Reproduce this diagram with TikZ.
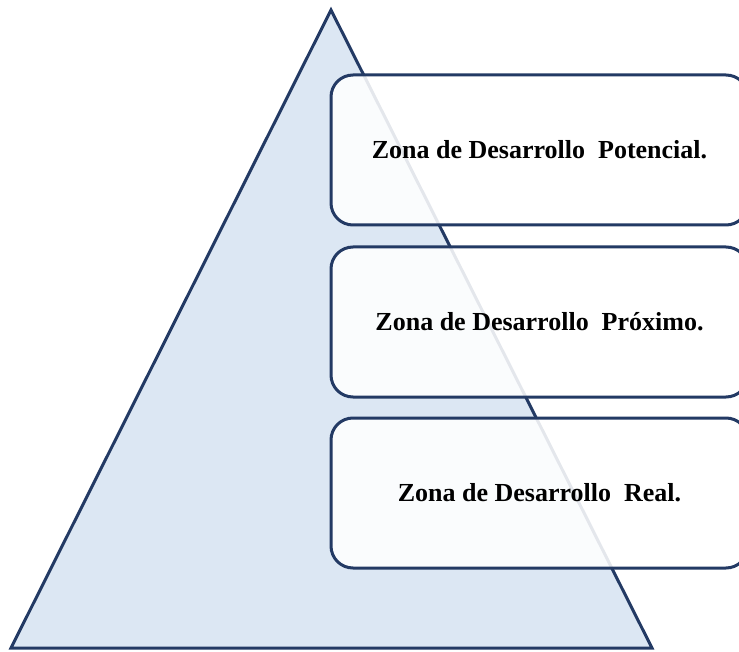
\documentclass[tikz,border=0pt]{standalone}
\usepackage{fontspec}
\setmainfont{Liberation Serif}
\definecolor{navy}{RGB}{35,58,100}
\definecolor{paleblue}{RGB}{220,231,243}
\tikzset{
	zonebox/.style={draw=navy,line width=3pt,rounded corners=22pt,fill=white,fill opacity=0.88,text opacity=1,
		minimum width=417pt,minimum height=150pt,font=\fontsize{26}{30}\selectfont\bfseries}
}
\begin{document}
\begin{tikzpicture}[x=1pt,y=-1pt]
		\useasboundingbox (0,0) rectangle (739,652);
		\clip (0,0) rectangle (739,652);

		\coordinate (top) at (331,10);
		\coordinate (left) at (11,648);
		\coordinate (right) at (652,648);
		\draw[navy,line width=3pt,line join=miter,fill=paleblue] (top) -- (right) -- (left) -- cycle;

		\node[zonebox] (potencial) at (539.5,150) {Zona de Desarrollo~ Potencial.};
		\node[zonebox] (proximo) at (539.5,322) {Zona de Desarrollo~ Próximo.};
		\node[zonebox] (real) at (539.5,493) {Zona de Desarrollo~ Real.};
	\end{tikzpicture}
\end{document}
